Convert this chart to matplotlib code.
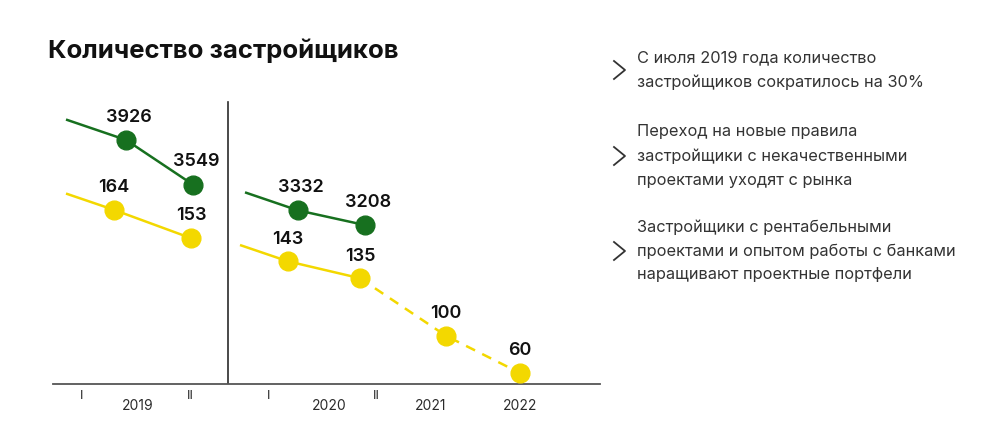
import numpy as np
import matplotlib.pyplot as plt
from matplotlib.lines import Line2D

plt.rcParams['font.family'] = ['Inter', 'DejaVu Sans']

# данные
green_vals = [3926, 3549, 3332, 3208]
yellow_vals = [164, 153, 143, 135, 100, 60]
# положения точек по оси x (условные единицы шкалы)
green_pos = [1.26, 1.93, 2.98, 3.65]
yellow_pos = [1.14, 1.91, 2.88, 3.60, 4.46, 5.20]
green_groups = [(0, 2), (2, 4)]
yellow_groups = [(0, 2), (2, 4)]
yellow_dashed = (3, 6)
green_lead = [0.66, 2.45]
yellow_lead = [0.66, 2.40]

half_labels = ['I', 'II', 'I', 'II']
half_pos = [0.82, 1.90, 2.69, 3.76]
year_labels = ['2019', '2020', '2021', '2022']
year_pos = [1.38, 3.29, 4.31, 5.20]
divider_x = 2.28

title = 'Количество застройщиков'
notes = [
    ['С июля 2019 года количество', 'застройщиков сократилось на 30%'],
    ['Переход на новые правила', 'застройщики с некачественными', 'проектами уходят с рынка'],
    ['Застройщики с рентабельными', 'проектами и опытом работы с банками',
     'наращивают проектные портфели'],
]

GREEN = '#17701f'
YELLOW = '#f3d800'
DARK = '#2b2b2b'

W, H = 990, 433
fig = plt.figure(figsize=(W / 100, H / 100), dpi=100)

def fx(px):
    return px / W

def fy(py):
    return 1 - py / H

ax = fig.add_axes([fx(53), fy(384), fx(600) - fx(53), fy(90) - fy(384)])
ax2 = ax.twinx()
ax.set_xlim(0.53, 6.0)
ax.set_ylim(1868, 4347)
# у жёлтой серии на исходнике шкала нелинейная
ax2.set_yscale('function', functions=(lambda v: np.power(np.clip(v, 0, None), 2.5),
                                      lambda v: np.power(np.clip(v, 0, None), 0.4)))
ax2.set_ylim(33.5, 201.6)
for a in (ax, ax2):
    for s in a.spines.values():
        s.set_visible(False)
    a.set_yticks([])
    a.set_yticks([], minor=True)
    a.set_xticks([])
    a.patch.set_visible(False)
ax.spines['bottom'].set_visible(True)
ax.spines['bottom'].set_color('#555555')
ax.spines['bottom'].set_linewidth(1.3)

ax.axvline(divider_x, ymin=0, ymax=0.96, color=DARK, lw=1.2)

def draw_series(a, pos, vals, groups, leads, color):
    for k, (i, j) in enumerate(groups):
        xs = pos[i:j]
        ys = vals[i:j]
        # подводка слева с постоянным наклоном на экране
        x0, y0 = a.transData.transform((xs[0], ys[0]))
        xl = a.transData.transform((leads[k], ys[0]))[0]
        yl = y0 + 0.34 * (x0 - xl)
        lead_y = a.transData.inverted().transform((xl, yl))[1]
        a.plot([leads[k]] + xs, [lead_y] + ys, color=color, lw=1.8,
               solid_capstyle='butt', zorder=2)

draw_series(ax, green_pos, green_vals, green_groups, green_lead, GREEN)
draw_series(ax2, yellow_pos, yellow_vals, yellow_groups, yellow_lead, YELLOW)
i, j = yellow_dashed
ax2.plot(yellow_pos[i:j], yellow_vals[i:j], color=YELLOW, lw=1.8,
         linestyle=(0, (4, 3.2)), zorder=2)

ax.plot(green_pos, green_vals, 'o', color=GREEN, ms=13.5, zorder=3)
ax2.plot(yellow_pos, yellow_vals, 'o', color=YELLOW, ms=13.5, zorder=3)

for x, v in zip(green_pos, green_vals):
    ax.annotate(str(v), (x, v), xytext=(2, 16.5), textcoords='offset points',
                ha='center', va='center', fontsize=13, fontweight='semibold',
                color='#111111')
for x, v in zip(yellow_pos, yellow_vals):
    ax2.annotate(str(v), (x, v), xytext=(0, 16), textcoords='offset points',
                 ha='center', va='center', fontsize=13, fontweight='semibold',
                 color='#111111')

for lab, x in zip(half_labels, half_pos):
    ax.annotate(lab, (x, 0), xycoords=('data', 'axes fraction'), xytext=(0, -8.5),
                textcoords='offset points', ha='center', va='center',
                fontsize=9.5, color=DARK)
for lab, x in zip(year_labels, year_pos):
    ax.annotate(lab, (x, 0), xycoords=('data', 'axes fraction'), xytext=(0, -15.5),
                textcoords='offset points', ha='center', va='center',
                fontsize=10, color=DARK)

fig.text(fx(48), fy(51), title, ha='left', va='center', fontsize=18.5,
         fontweight='bold', color='#111111')

# блоки текста справа
block_tops = [58, 132, 227]
step = 24
for top, lines in zip(block_tops, notes):
    for n, line in enumerate(lines):
        fig.text(fx(637), fy(top + n * step), line, ha='left', va='center',
                 fontsize=11.8, color='#333333')
    cy = top + (len(lines) - 1) * step / 2
    fig.add_artist(Line2D([fx(614), fx(625), fx(614)], [fy(cy - 9), fy(cy), fy(cy + 9)],
                          color='#333333', lw=1.3, transform=fig.transFigure))

fig.savefig('out.png', dpi=100, facecolor='white')
